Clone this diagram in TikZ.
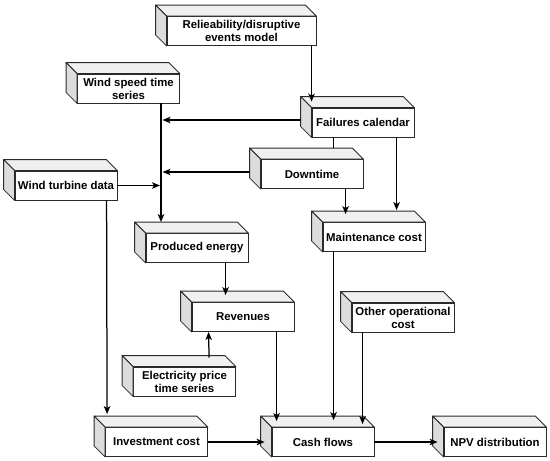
\documentclass[tikz,border=0pt]{standalone}
\usepackage{fontspec}
\setmainfont{Liberation Sans}
\usetikzlibrary{arrows.meta,calc}
\definecolor{topface}{HTML}{F0F0F0}
\definecolor{sideface}{HTML}{DCDCDC}
\definecolor{edge}{HTML}{2A2A2A}
\begin{document}
\begin{tikzpicture}[x=1pt,y=-1pt,
  box/.style={draw=edge, line width=0.85pt, fill=white, minimum width=102pt, minimum height=29pt, inner sep=1pt, align=center, font=\bfseries\fontsize{11.4}{13}\selectfont},
  topf/.style={draw=edge, line width=0.85pt, fill=topface, line join=round},
  sidef/.style={draw=edge, line width=0.85pt, fill=sideface, line join=round},
  arr/.style={line width=1.25pt, -{Stealth[length=8pt,width=6.5pt,inset=2pt]}},
  ln/.style={line width=1.25pt}]
\useasboundingbox (0,0) rectangle (550,461);
\node[box, minimum width=149pt] (rel) at (241.5,31) {Relieability/disruptive\\events model};
\node[box] (ws)  at (128.5,88.5) {Wind speed time\\series};
\node[box] (wtd) at (66,185.5) {Wind turbine data};
\node[box] (fc)  at (363,122.5) {Failures calendar};
\node[box] (dt)  at (312,174) {Downtime};
\node[box] (mc)  at (374,237) {Maintenance cost};
\node[box] (pe)  at (197,248) {Produced energy};
\node[box] (rev) at (243,317) {Revenues};
\node[box] (ep)  at (184.5,381.5) {Electricity price\\time series};
\node[box] (oc)  at (403,317.5) {Other operational\\cost};
\node[box] (ic)  at (156.5,442) {Investment cost};
\node[box] (cf)  at (323,442) {Cash flows};
\node[box] (npv) at (495,442) {NPV distribution};
\foreach \n in {rel,ws,wtd,fc,dt,mc,pe,rev,ep,oc,ic,cf,npv}{
  \path[topf] (\n.north west) -- ++(-11,-11) -- ($(\n.north east)+(-11,-11)$) -- (\n.north east) -- cycle;
  \path[sidef] (\n.north west) -- ++(-11,-11) -- ($(\n.south west)+(-11,-11)$) -- (\n.south west) -- cycle;
}
\coordinate (bus) at (161,0);
\draw[arr] (rel.south -| fc.west) -- ($(fc.north west)+(0,-6)$);
\draw[arr] (ws.south -| bus) -- ($(pe.north -| bus)+(0,-11)$);
\draw[arr] ($(fc.west)+(-11,-2.5)$) -- ($(fc.west -| bus)+(1.5,-2.5)$);
\draw[arr] ($(dt.west)+(-11,-2)$) -- ($(dt.west -| bus)+(1.5,-2)$);
\draw[arr] (wtd.east) -- ($(wtd.east -| bus)+(-1,0)$);
\draw[ln] ($(fc.south west)+(22,0)$) -- ($(dt.north west)+(73,-11)$);
\draw[arr] ($(dt.south west)+(85,0)$) -- ($(mc.north west)+(23,-8)$);
\draw[arr] ($(fc.south west)+(85,0)$) -- ($(mc.north west)+(74,-12)$);
\draw[arr] ($(pe.south west)+(80,0)$) -- ($(rev.north west)+(34,-7)$);
\draw[arr] ($(ep.north west)+(76,-9)$) -- ($(rev.south west)+(17,0)$);
\draw[arr] ($(rev.south west)+(85,0)$) -- ($(cf.north west)+(5,-6)$);
\draw[arr] ($(mc.south west)+(11,0)$) -- ($(cf.north west)+(62,-7)$);
\draw[arr] ($(oc.south west)+(11,0)$) -- ($(cf.north west)+(91,-3)$);
\draw[arr] ($(wtd.south west)+(92,0)$) -- ($(ic.north west)+(2,-13)$);
\draw[arr] (ic.east) -- ($(cf.west)+(-7,0)$);
\draw[arr] (cf.east) -- ($(npv.west)+(-6,0)$);
\end{tikzpicture}
\end{document}
